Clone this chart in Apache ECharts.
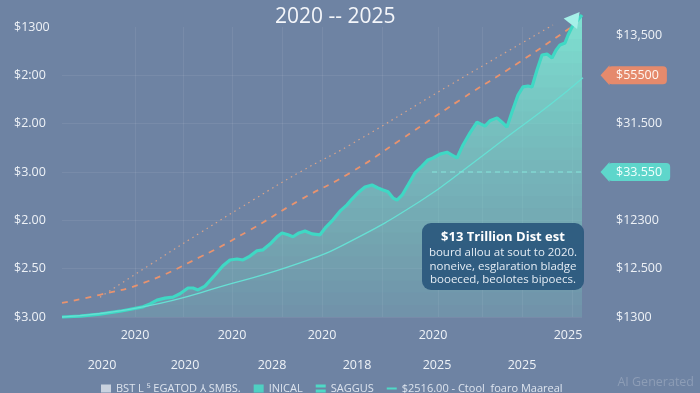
<!DOCTYPE html>
<html><head><meta charset="utf-8">
<script src="https://cdn.jsdelivr.net/npm/echarts@6/dist/echarts.min.js"></script>
<style>html,body{margin:0;padding:0;background:#6e83a3;}#c{width:700px;height:393px;}</style>
</head><body><div id="c"></div>
<script>
const FONT = "'Open Sans', sans-serif";
// ---- data ----
const titleText = '2020 -- 2025';
const yLeftLabels = ['$3.00', '$2.50', '$2.00', '$3.00', '$2.00', '$2:00', '$1300'];
const yRightLabels = ['$1300', '$12.500', '$12300', '$33.550', '$31.500', '$55500', '$13,500'];
const xTopTicks = [14.6, 34, 52, 74.2, 101.2];
const xTopLabels = ['2020', '2020', '2020', '2020', '2025'];
const xBottomTicks = [8, 24.6, 42, 59, 75, 92];
const xBottomLabels = ['2020', '2020', '2028', '2018', '2025', '2025'];
const xGridTicks = [14.6, 24.2, 34, 44, 52, 64, 75.2, 84, 92, 102];

const mainX = [0, 3.6, 7.6, 11.6, 16.2, 17.6, 19, 20.6, 22.2, 23.6, 25.2, 26.2, 27.2, 28.6, 30.6, 32.2, 33.6, 35, 36.2, 37.6, 39, 40.2, 41.6, 43, 44, 45.2, 46.2, 47.4, 48.6, 50, 51.6, 52.8, 54.2, 55.6, 57, 58, 59.2, 60.6, 62, 63.2, 64.2, 65.2, 66.2, 67, 68, 69.2, 70.6, 72, 73.2, 74.2, 75.6, 77, 78, 79, 80.2, 81.6, 83, 83.8, 84.6, 85.6, 87, 88, 89, 90, 91.2, 92.2, 93.2, 94, 95, 96, 97, 98, 98.8, 99.6, 100.6, 101.2, 102, 104];
const mainY = [0, 0.02, 0.06, 0.12, 0.21, 0.27, 0.35, 0.39, 0.41, 0.48, 0.60, 0.60, 0.56, 0.64, 0.87, 1.06, 1.18, 1.20, 1.18, 1.26, 1.37, 1.39, 1.51, 1.66, 1.74, 1.70, 1.66, 1.74, 1.78, 1.72, 1.70, 1.86, 2.01, 2.19, 2.32, 2.44, 2.57, 2.69, 2.73, 2.67, 2.63, 2.59, 2.46, 2.42, 2.52, 2.73, 2.98, 3.12, 3.25, 3.29, 3.37, 3.41, 3.35, 3.29, 3.56, 3.81, 4.03, 3.99, 3.95, 4.06, 4.12, 4.03, 3.93, 4.24, 4.59, 4.76, 4.78, 4.76, 5.11, 5.42, 5.44, 5.36, 5.52, 5.63, 5.67, 5.83, 6.0, 6.25];
const arrowHead = [102.6, 6.19];
const trendX = [0, 16.2, 34.2, 47.6, 57, 72, 81.6, 89.6, 97.6, 104.2];
const trendY = [0, 0.21, 0.70, 1.12, 1.53, 2.42, 3.14, 3.77, 4.39, 4.95];
const dashX = [0, 7.6, 16.2, 27.6, 37.6, 47.6, 57.6, 67.6, 79.6, 91.6, 101.6];
const dashY = [0.29, 0.46, 0.70, 1.24, 1.80, 2.42, 2.98, 3.66, 4.49, 5.28, 5.98];
const dotX = [7.6, 17.6, 27.6, 38.2, 47.6, 57.6, 77.6, 98.2];
const dotY = [0.41, 1.08, 1.74, 2.42, 3.0, 3.56, 4.80, 6.04];
const orangeTagX = [104.8, 107.6];
const orangeTagY = 5.0;
const tealTagX = [74, 107.6];
const tealTagY = 3.0;
const tagPointerX = 108.6;
const legendNames = ['BST L \u2075 EGATOD \u2144 SMBS.', 'INICAL', 'SAGGUS', '$2516.00 - Ctool  foaro Maareal'];
const noteLines = ['$13 Trillion Dist est', 'bourd allou at sout to 2020.', 'noneive, esglaration bladge', 'booeced, beolotes bipoecs.'];
const watermark = 'AI Generated';

const zip = (xs, ys) => xs.map((x, i) => [x, ys[i]]);
const mainData = zip(mainX, mainY);

// fill shading: stacked translucent layers (fade towards bottom)
const FILL_STEP = 0.25;
const targetAlpha = v => Math.min(0.93, 0.16 + 0.13 * v);
function layerPoints(t) {
  const pts = [];
  for (let i = 0; i < mainX.length; i++) {
    const x = mainX[i], y = mainY[i];
    pts.push([x, Math.max(y, t)]);
    if (i < mainX.length - 1) {
      const y2 = mainY[i + 1];
      if ((y - t) * (y2 - t) < 0) {
        const xc = x + (mainX[i + 1] - x) * (t - y) / (y2 - y);
        pts.push([xc, t]);
      }
    }
  }
  pts.push([mainX[mainX.length - 1], t]);
  pts.push([mainX[0], t]);
  return pts;
}

const chart = echarts.init(document.getElementById('c'), null, {renderer: 'canvas'});
chart.setOption({
  animation: false,
  backgroundColor: '#6e83a3',
  textStyle: {fontFamily: FONT},
  title: {text: titleText, left: 270, top: 2,
    textStyle: {color: '#f4f6fa', fontSize: 21, fontWeight: 500, fontFamily: FONT}},
  grid: {left: 62, right: 118, top: 27, bottom: 76, containLabel: false},
  legend: {
    left: 96, top: 378, itemGap: 13, itemWidth: 10, itemHeight: 8,
    textStyle: {color: '#dde4ee', fontSize: 11, fontFamily: FONT},
    data: [
      {name: legendNames[0], icon: 'rect', itemStyle: {color: '#c9d2df'}},
      {name: legendNames[1], icon: 'rect', itemStyle: {color: '#4fd0c2'}},
      {name: legendNames[2], icon: 'path://M0,0h10v3h-10z M0,5h10v3h-10z', itemStyle: {color: '#4fd9c6'}},
      {name: legendNames[3], icon: 'path://M0,3h10v2h-10z', itemStyle: {color: '#4fd9c6'}}
    ]
  },
  xAxis: [
    {type: 'value', min: 0, max: 104, position: 'bottom',
      axisLine: {show: false},
      axisTick: {show: false, customValues: xGridTicks},
      splitLine: {show: true, lineStyle: {color: 'rgba(255,255,255,0.07)', width: 1}},
      axisLabel: {customValues: xTopTicks, margin: 12, color: '#eef2f7', fontSize: 12.5, fontFamily: FONT,
        formatter: v => xTopLabels[xTopTicks.indexOf(v)] || ''}},
    {type: 'value', min: 0, max: 104, position: 'bottom', offset: 30,
      axisLine: {show: false}, axisTick: {show: false}, splitLine: {show: false},
      axisLabel: {customValues: xBottomTicks, margin: 12, color: '#eef2f7', fontSize: 12.5, fontFamily: FONT,
        formatter: v => xBottomLabels[xBottomTicks.indexOf(v)] || ''}}
  ],
  yAxis: [
    {type: 'value', min: 0, max: 6, interval: 1, position: 'left',
      axisLine: {show: false}, axisTick: {show: false},
      splitLine: {lineStyle: {color: ['rgba(255,255,255,0.07)','rgba(255,255,255,0.07)','rgba(255,255,255,0.07)','rgba(255,255,255,0.07)','rgba(255,255,255,0.07)','rgba(255,255,255,0.07)','rgba(0,0,0,0)']}},
      axisLabel: {align: 'left', margin: 48, color: '#eef2f7', fontSize: 12.5, fontFamily: FONT,
        formatter: v => yLeftLabels[Math.round(v)]}},
    {type: 'value', min: 0, max: 6, interval: 1, position: 'right',
      axisLine: {show: false}, axisTick: {show: false}, splitLine: {show: false},
      axisLabel: {align: 'left', margin: 26, fontFamily: FONT,
        formatter: v => {
          const i = Math.round(v);
          const s = yRightLabels[i];
          if (i === 5) return '{o|' + s + '}';
          if (i === 3) return '{t|' + s + '}';
          if (i === 6) return '{top|' + s + '}';
          return '{n|' + s + '}';
        },
        rich: {
          n: {color: '#eef2f7', fontSize: 12.5, padding: [2, 8, 2, 8], fontFamily: FONT},
          top: {color: '#eef2f7', fontSize: 12.5, padding: [16, 8, 0, 8], fontFamily: FONT},
          o: {color: '#fff7f2', fontSize: 12.5, padding: [3, 8, 2, 8], backgroundColor: '#e58a6c', borderRadius: 4, fontFamily: FONT},
          t: {color: '#f2fffd', fontSize: 12.5, padding: [3, 8, 2, 8], backgroundColor: '#5ed6cb', borderRadius: 4, fontFamily: FONT}
        }}}
  ],
  series: [
    {type: 'custom', data: mainData, z: 2, silent: true, clip: false,
      renderItem: (params, api) => {
        if (params.dataIndex !== 0) return null;
        const children = [];
        let prevA = 0;
        for (let t = 0; t < 6.3; t += FILL_STEP) {
          const a = targetAlpha(t);
          const p = 1 - (1 - a) / (1 - prevA);
          prevA = a;
          if (p <= 0.001) continue;
          children.push({type: 'polygon', shape: {points: layerPoints(t).map(d => api.coord(d))},
            style: {fill: '#82e6d6', opacity: p}});
        }
        return {type: 'group', children};
      }},
    {name: legendNames[1], type: 'line', data: mainData, showSymbol: false, clip: false, z: 4,
      lineStyle: {color: '#3fd8c4', width: 3.2}},
    {type: 'scatter', data: [arrowHead], clip: false, z: 6, silent: true,
      symbol: 'triangle', symbolSize: [17, 15], symbolRotate: -38, itemStyle: {color: '#a6f0e8', opacity: 1}},
    {name: legendNames[2], type: 'line', data: zip(trendX, trendY), smooth: true, showSymbol: false, clip: false, z: 5,
      lineStyle: {color: '#66e0d4', width: 1.3}},
    {name: legendNames[3], type: 'line', data: zip(dashX, dashY), smooth: true, showSymbol: false, clip: false, z: 3,
      lineStyle: {color: '#e8936f', width: 1.8, type: [6, 6]}},
    {name: legendNames[0], type: 'line', data: zip(dotX, dotY), smooth: true, showSymbol: false, clip: false, z: 3,
      lineStyle: {color: '#d9a48b', width: 1.2, type: [1.5, 4]}},
    {type: 'line', data: orangeTagX.map(x => [x, orangeTagY]), showSymbol: false, clip: false, z: 3,
      lineStyle: {color: '#e8936f', width: 1.5, type: [3, 3]}},
    {type: 'line', data: tealTagX.map(x => [x, tealTagY]), showSymbol: false, clip: false, z: 5,
      lineStyle: {color: '#86e6dc', width: 1, type: [5, 4]}},
    {type: 'scatter', yAxisIndex: 1, data: [[tagPointerX, orangeTagY], [tagPointerX, tealTagY]], clip: false, z: 6, silent: true,
      symbol: 'triangle', symbolSize: [20, 9], symbolRotate: 90,
      itemStyle: {opacity: 1, color: p => p.dataIndex === 0 ? '#e58a6c' : '#5ed6cb'}}
  ],
  graphic: [
    {type: 'group', left: 422, top: 223, children: [
      {type: 'rect', z: 100, shape: {x: 0, y: 0, width: 162, height: 67, r: 9}, style: {fill: '#2c5a7e', opacity: 0.95}},
      {type: 'text', z: 101, x: 81, y: 14, style: {text: noteLines[0], fill: '#ffffff', font: 'bold 13px ' + FONT, align: 'center', verticalAlign: 'middle'}},
      {type: 'text', z: 101, x: 81, y: 30, style: {text: noteLines[1], fill: '#e4ecf4', font: '11.5px ' + FONT, align: 'center', verticalAlign: 'middle'}},
      {type: 'text', z: 101, x: 81, y: 44, style: {text: noteLines[2], fill: '#e4ecf4', font: '11.5px ' + FONT, align: 'center', verticalAlign: 'middle'}},
      {type: 'text', z: 101, x: 81, y: 57, style: {text: noteLines[3], fill: '#e4ecf4', font: '11.5px ' + FONT, align: 'center', verticalAlign: 'middle'}}
    ]},
    {type: 'text', right: 6, top: 376, z: 100, style: {text: watermark, fill: '#8d9db6', font: '12.5px ' + FONT}}
  ]
});
</script></body></html>
